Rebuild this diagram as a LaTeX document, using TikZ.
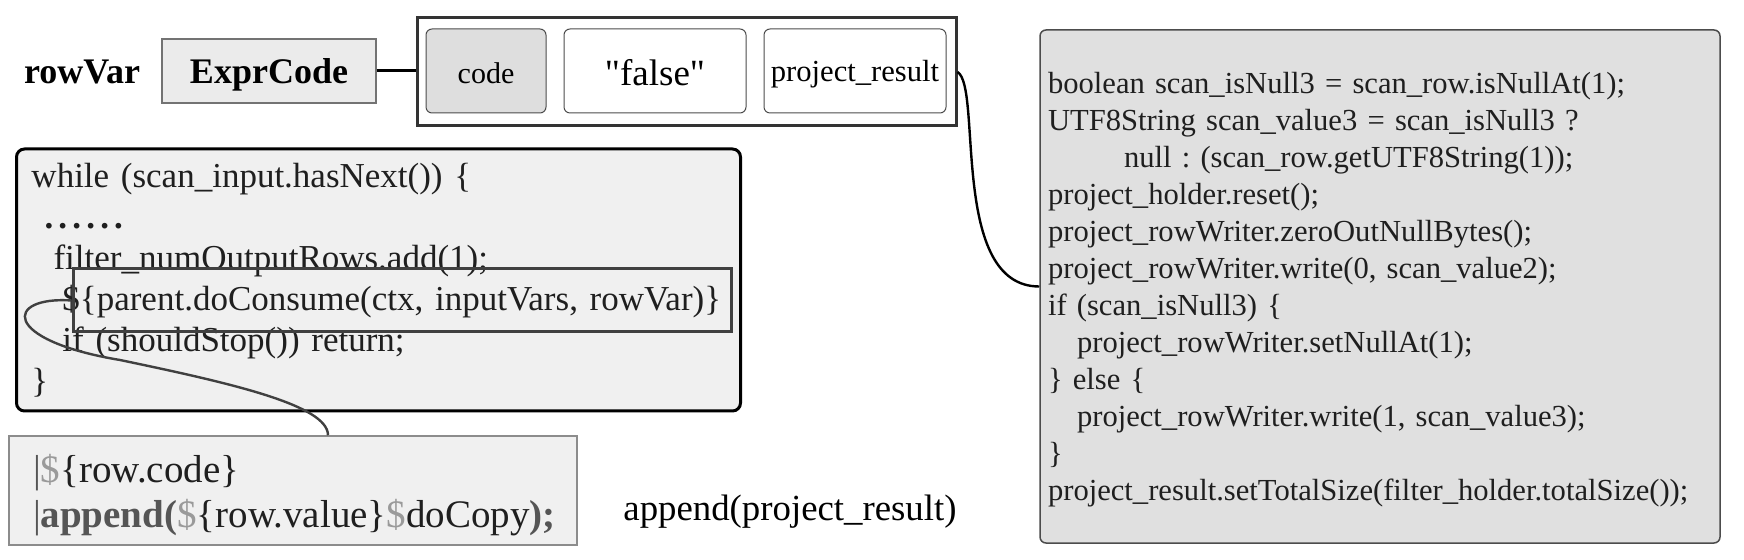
\documentclass[tikz,border=0pt]{standalone}
\usepackage{fontspec}
\setmainfont{Liberation Serif}

\definecolor{dollargray}{HTML}{9A9A9A}
\definecolor{kwgray}{HTML}{555555}

\begin{document}
\frenchspacing
\begin{tikzpicture}
[
x=0.5pt, y=-0.5pt,
lbl/.style={inner sep=0, font=\fontsize{18}{20}\selectfont\bfseries},
cell/.style={draw=black!70, line width=0.5pt, rounded corners=3pt, fill=white,
  minimum width=91pt, minimum height=42pt, inner sep=0, text depth=0pt},
codebox/.style={align=left, inner ysep=0, text=black!88}
]
\useasboundingbox (0,0) rectangle (1744,560);

% top row
\node[lbl] (rv) at (82,72) {rowVar};
\node[lbl, draw=black!55, line width=0.6pt, fill=black!8, minimum width=107pt,
  minimum height=32pt, text height=13pt, text depth=0pt] (ec) at (269,71) {ExprCode};
\node[draw=black!80, line width=1.5pt, minimum width=269.5pt, minimum height=54pt]
  (outer) at (686.5,72) {};
\node[cell, fill=black!13, minimum width=60pt, text height=12.5pt,
  font=\fontsize{15}{17}\selectfont] (code) at (486,71) {code};
\node[cell, text height=15pt, font=\fontsize{18.5}{20}\selectfont\addfontfeatures{Ligatures=TeXOff}]
  (false) at (655,71) {"false"};
\node[cell, text height=11pt, font=\fontsize{15.3}{17}\selectfont] (res) at (855,71) {project\_result};
\draw[line width=1.5pt] (ec.east) -- (ec.east -| outer.west);

% while loop
\node[codebox, draw=black, line width=1.5pt, rounded corners=4pt, fill=black!6,
  text width=347pt, inner xsep=7.5pt, minimum height=131pt,
  font=\fontsize{17.5}{20.5}\selectfont] (loop) at (378.5,280)
{while (scan\_input.hasNext()) \{\\
\hspace*{6.5pt}\textbf{.\hspace{2.6pt}.\hspace{2.6pt}.\hspace{2.6pt}.\hspace{2.6pt}.\hspace{2.6pt}.}\\
\hspace*{11pt}filter\_numOutputRows.add(1);\\
\hspace*{15.5pt}\$\{parent.doConsume(ctx, inputVars, rowVar)\}\\
\hspace*{15.5pt}if (shouldStop()) return;\\
\}};
\node[draw=black!75, line width=1.5pt, minimum width=329pt, minimum height=31.5pt,
  inner sep=0] (consume) at (402,300.5) {};

% template
\node[codebox, draw=black!45, line width=0.75pt, fill=black!6, text width=260pt,
  inner xsep=12pt, minimum height=54.5pt, font=\fontsize{19.5}{22.5}\selectfont]
  (tmpl) at (293,490.5)
{\rule{0pt}{19pt}{\color{kwgray}|}{\color{dollargray}\$}\{row.code\}\\
{\color{kwgray}|\textbf{append}\textbf{(}}{\color{dollargray}\$}\{row.value\}{\color{dollargray}\$}doCopy{\color{kwgray}\textbf{);}}};

\node[inner sep=0, font=\fontsize{18.4}{20}\selectfont] (app) at (790,512)
  {append(project\_result)};

% generated code
\node[codebox, draw=black!70, line width=0.75pt, rounded corners=3pt, fill=black!12,
  text width=332pt, inner xsep=4pt, minimum height=256.5pt,
  font=\fontsize{15.3}{18.5}\selectfont] (gen) at (1380,286.5)
{\rule{0pt}{13.5pt}boolean scan\_isNull3 = scan\_row.isNullAt(1);\\
UTF8String scan\_value3 = scan\_isNull3 ?\\
\hspace*{38pt}null : (scan\_row.getUTF8String(1));\\
project\_holder.reset();\\
project\_rowWriter.zeroOutNullBytes();\\
project\_rowWriter.write(0, scan\_value2);\\
if (scan\_isNull3) \{\\
\hspace*{14.5pt}project\_rowWriter.setNullAt(1);\\
\} else \{\\
\hspace*{14.5pt}project\_rowWriter.write(1, scan\_value3);\\
\}\\
project\_result.setTotalSize(filter\_holder.totalSize());};

% connectors
\draw[line width=1.2pt] (outer.east) .. controls +(25,15) and +(-90,0) .. (gen.west);
\draw[line width=1.2pt, black!75] (consume.west) .. controls (5,296) and (0,340) .. (120,360)
  .. controls (230,383) and (328,405) .. ([xshift=17.5pt]tmpl.north);
\end{tikzpicture}
\end{document}
